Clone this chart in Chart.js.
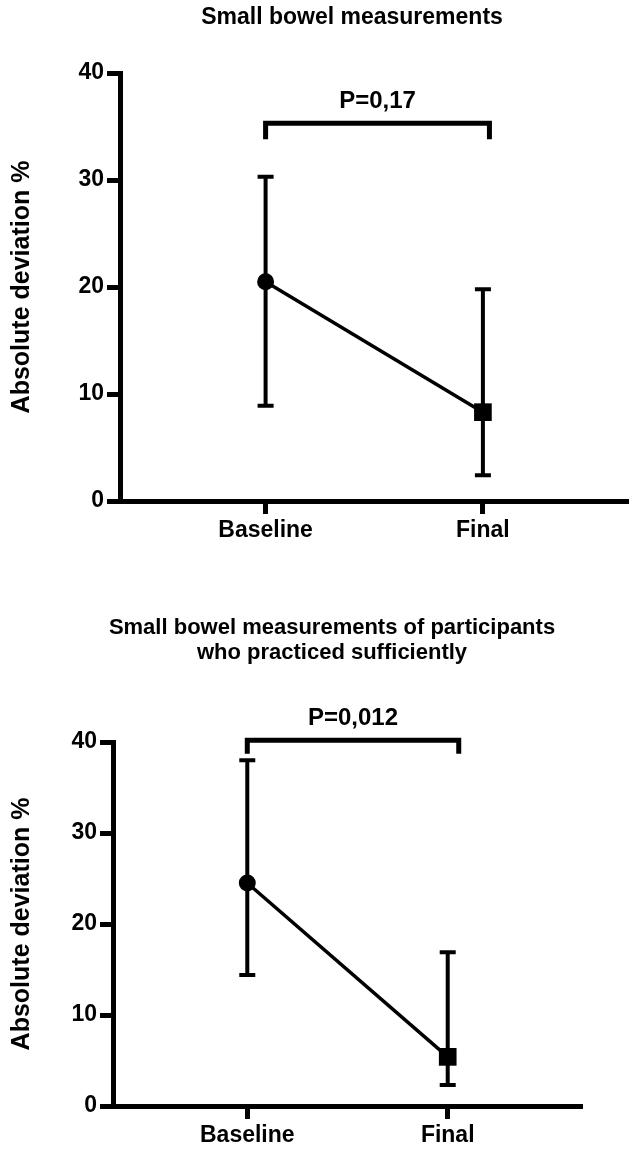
<!DOCTYPE html>
<html>
<head>
<meta charset="utf-8">
<script src="https://cdn.jsdelivr.net/npm/chart.js@4.4.0/dist/chart.umd.min.js"></script>
<style>
  body { margin: 0; background: #fff; width: 641px; height: 1152px; overflow: hidden; }
  .box { position: absolute; left: 0; width: 641px; }
</style>
</head>
<body>
<div class="box" style="top:0;height:565px"><canvas id="chart1"></canvas></div>
<div class="box" style="top:565px;height:587px"><canvas id="chart2"></canvas></div>
<script>
const categories = ["Baseline", "Final"];
const yTicks = [0, 10, 20, 30, 40];

// chart 1: all participants
const mean1 = [20.5, 8.3];
const lower1 = [8.9, 2.4];
const upper1 = [30.3, 19.8];

// chart 2: participants who practiced sufficiently
const mean2 = [24.5, 5.4];
const lower2 = [14.4, 2.3];
const upper2 = [38.0, 16.9];

const pValue1 = "P=0,17";
const pValue2 = "P=0,012";

Chart.defaults.font.family = "'Liberation Sans', Arial, sans-serif";
Chart.defaults.color = "#000";

const fontOf = (size) => "bold " + size + "px 'Liberation Sans', Arial, sans-serif";

// error bars + significance bracket + heading
const extras = {
  id: "extras",
  afterDatasetsDraw(chart, args, opts) {
    const { ctx, scales } = chart;
    const x = scales.x, y = scales.y;
    ctx.save();
    ctx.strokeStyle = "#000";
    ctx.fillStyle = "#000";
    ctx.lineWidth = 4;
    ctx.lineCap = "butt";
    opts.lower.forEach((lo, i) => {
      const px = x.getPixelForValue(i + 1);
      const y1 = y.getPixelForValue(lo);
      const y2 = y.getPixelForValue(opts.upper[i]);
      ctx.beginPath();
      ctx.moveTo(px, y1);
      ctx.lineTo(px, y2);
      ctx.moveTo(px - 8, y1);
      ctx.lineTo(px + 8, y1);
      ctx.moveTo(px - 8, y2);
      ctx.lineTo(px + 8, y2);
      ctx.stroke();
    });

    // bracket
    const b = opts.bracket;
    const bx1 = x.getPixelForValue(b.x[0]);
    const bx2 = x.getPixelForValue(b.x[1]);
    const by1 = y.getPixelForValue(b.y[0]);
    const by2 = y.getPixelForValue(b.y[1]);
    ctx.lineWidth = 5;
    ctx.lineJoin = "miter";
    ctx.beginPath();
    ctx.moveTo(bx1, by2);
    ctx.lineTo(bx1, by1);
    ctx.lineTo(bx2, by1);
    ctx.lineTo(bx2, by2);
    ctx.stroke();
    ctx.font = fontOf(24);
    ctx.textAlign = "center";
    ctx.textBaseline = "middle";
    ctx.fillText(b.label, (bx1 + bx2) / 2, by1 - 22);

    // heading
    const h = opts.heading;
    ctx.font = fontOf(h.size);
    h.lines.forEach((line, i) => ctx.fillText(line, h.x, h.y + i * h.lineHeight));
    ctx.restore();
  }
};

function makeChart(id, means, lower, upper, cfg) {
  return new Chart(document.getElementById(id), {
    type: "line",
    data: {
      datasets: [{
        data: means.map((v, i) => ({ x: i + 1, y: v })),
        borderColor: "#000",
        backgroundColor: "#000",
        borderWidth: 3.5,
        tension: 0,
        pointStyle: ["circle", "rect"],
        pointRadius: [8.5, 12.5],
        pointBorderWidth: 0,
        pointBackgroundColor: "#000",
        clip: false,
      }],
    },
    options: {
      responsive: true,
      maintainAspectRatio: false,
      animation: false,
      layout: { padding: cfg.padding },
      plugins: {
        legend: { display: false },
        tooltip: { enabled: false },
        extras: {
          lower: lower,
          upper: upper,
          bracket: cfg.bracket,
          heading: cfg.heading,
        },
      },
      scales: {
        x: {
          type: "linear",
          min: 0.33,
          max: 2.67,
          afterBuildTicks: (s) => { s.ticks = categories.map((c, i) => ({ value: i + 1 })); },
          afterFit: (s) => { s.height = cfg.xHeight; },
          ticks: {
            callback: (v) => categories[Math.round(v) - 1],
            font: { size: 23, weight: "bold" },
            color: "#000",
            padding: 3,
          },
          grid: { drawOnChartArea: false, tickLength: 13, tickWidth: 5, tickColor: "#000" },
          border: { width: 5, color: "#000" },
        },
        y: {
          min: 0,
          max: 40,
          afterBuildTicks: (s) => { s.ticks = yTicks.map((v) => ({ value: v })); },
          afterFit: (s) => { s.width = cfg.yWidth; },
          ticks: {
            font: { size: 23, weight: "bold" },
            color: "#000",
            padding: 3,
          },
          grid: { drawOnChartArea: false, tickLength: 13, tickWidth: 5, tickColor: "#000" },
          border: { width: 5, color: "#000" },
          title: {
            display: true,
            text: "Absolute deviation %",
            font: { size: 25, weight: "bold" },
            color: "#000",
            padding: { top: 7, bottom: 0 },
          },
        },
      },
    },
    plugins: [extras],
  });
}

makeChart("chart1", mean1, lower1, upper1, {
  padding: { top: 73, right: 10, left: 0, bottom: 14 },
  xHeight: 50,
  yWidth: 120,
  bracket: { x: [1, 2.03], y: [35.3, 33.8], label: pValue1 },
  heading: { lines: ["Small bowel measurements"], x: 352, y: 18, size: 23, lineHeight: 25 },
});

makeChart("chart2", mean2, lower2, upper2, {
  padding: { top: 177, right: 59, left: 0, bottom: 2 },
  xHeight: 44,
  yWidth: 113,
  bracket: { x: [1, 2.055], y: [40.2, 38.7], label: pValue2 },
  heading: {
    lines: ["Small bowel measurements of participants", "who practiced sufficiently"],
    x: 332, y: 63, size: 22, lineHeight: 25,
  },
});
</script>
</body>
</html>
